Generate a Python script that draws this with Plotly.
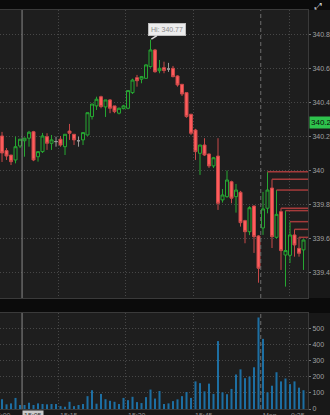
import plotly.graph_objects as go

# ---------------- data (1-minute bars) ----------------
opens = [340.203, 340.117, 340.091, 340.062, 340.144, 340.175, 340.190, 340.228, 340.081, 340.111,
         340.199, 340.160, 340.170, 340.184, 340.140, 340.232, 340.213, 340.175, 340.180, 340.209,
         340.317, 340.380, 340.434, 340.374, 340.415, 340.380, 340.337, 340.364, 340.366, 340.458,
         340.546, 340.537, 340.542, 340.611, 340.709, 340.587, 340.605, 340.597, 340.601, 340.556,
         340.507, 340.458, 340.331, 340.238, 340.101, 340.150, 340.097, 340.027, 340.085, 339.827,
         339.846, 339.934, 339.846, 339.872, 339.705, 339.640, 339.791, 339.615, 339.662, 339.778,
         339.897, 339.607, 339.758, 339.503, 339.501, 339.621, 339.542, 339.533]
highs = [340.227, 340.132, 340.091, 340.199, 340.184, 340.193, 340.233, 340.233, 340.111, 340.221,
         340.219, 340.209, 340.199, 340.203, 340.213, 340.274, 340.213, 340.199, 340.223, 340.340,
         340.391, 340.434, 340.440, 340.415, 340.420, 340.380, 340.370, 340.386, 340.470, 340.540,
         340.562, 340.556, 340.625, 340.770, 340.715, 340.650, 340.640, 340.633, 340.615, 340.560,
         340.507, 340.460, 340.331, 340.245, 340.150, 340.190, 340.100, 340.080, 340.190, 339.891,
         340.000, 339.940, 339.921, 339.880, 339.710, 339.790, 339.795, 339.620, 339.874, 339.993,
         339.948, 339.885, 339.778, 339.764, 339.699, 339.654, 339.607, 339.595]
lows = [340.050, 340.062, 340.032, 340.042, 340.132, 340.081, 340.140, 340.055, 340.052, 340.103,
        340.121, 340.121, 340.140, 340.140, 340.091, 340.180, 340.150, 340.140, 340.150, 340.205,
        340.300, 340.356, 340.366, 340.315, 340.337, 340.337, 340.330, 340.360, 340.360, 340.450,
        340.493, 340.513, 340.540, 340.605, 340.575, 340.572, 340.572, 340.580, 340.548, 340.493,
        340.438, 340.310, 340.209, 340.062, 339.974, 340.085, 340.015, 340.015, 339.768, 339.811,
        339.840, 339.807, 339.752, 339.670, 339.572, 339.620, 339.515, 339.340, 339.621, 339.748,
        339.544, 339.600, 339.415, 339.317, 339.456, 339.493, 339.493, 339.415]
closes = [340.103, 340.085, 340.052, 340.140, 340.184, 340.190, 340.225, 340.062, 340.111, 340.203,
          340.160, 340.180, 340.170, 340.150, 340.213, 340.219, 340.180, 340.175, 340.223, 340.340,
          340.391, 340.419, 340.376, 340.415, 340.366, 340.346, 340.366, 340.380, 340.470, 340.532,
          340.528, 340.552, 340.621, 340.709, 340.581, 340.601, 340.588, 340.597, 340.552, 340.503,
          340.450, 340.317, 340.219, 340.111, 340.150, 340.091, 340.027, 340.075, 339.807, 339.856,
          339.944, 339.837, 339.885, 339.693, 339.640, 339.781, 339.611, 339.425, 339.774, 339.885,
          339.611, 339.742, 339.529, 339.529, 339.621, 339.562, 339.513, 339.591]
volumes = [61, 29, 35, 69, 25, 25, 39, 25, 35, 31,
           29, 31, 31, 18, 14, 45, 18, 25, 31, 80,
           117, 33, 94, 61, 51, 45, 31, 69, 55, 76,
           43, 37, 74, 121, 65, 112, 31, 35, 49, 60,
           80, 106, 69, 172, 161, 110, 158, 94, 423, 104,
           92, 125, 215, 247, 192, 202, 260, 570, 437, 104,
           145, 229, 172, 190, 155, 172, 133, 117]

# bars whose highs are extended to the right edge
level_bars = [59, 60, 61, 62, 63, 64, 65, 66]

price_ticks = [339.4, 339.6, 339.8, 340.0, 340.2, 340.4, 340.6, 340.8]
volume_ticks = [0, 100, 200, 300, 400, 500]
time_labels = ["15:00", "15:15", "15:30", "15:45", "Mon", "9:35"]
time_label_pos = [-2.5, 12.5, 27.5, 42.5, 57.5, 63.8]   # in bar-index units
session_break = 57.5
cursor_pos, cursor_label = 4.45, "15:05"
marker_price = 340.28

# ---------------- figure ----------------
n = len(opens)
idx = list(range(n))
XMIN, XMAX = -0.45, 68.0
W, H = 330, 415
ML, MR, MT, MB = 0, 22, 10, 6
plot_h = H - MT - MB
vol_dom = [0, 96 / plot_h]
price_dom = [111 / plot_h, 1]

BG = "#1e1e1e"
PAPER = "#181818"
GRID = "#474747"
GREEN = "#26a832"
RED = "#ff5c5c"
FONT = "Liberation Sans, Arial, sans-serif"

up = [i for i in idx if closes[i] > opens[i]]
dn = [i for i in idx if closes[i] < opens[i]]
dj = [i for i in idx if closes[i] == opens[i]]

def sub(arr, ids):
    return [arr[i] for i in ids]

fig = go.Figure()

# resistance-style levels from highs
lx, ly = [], []
for b in level_bars:
    lx += [b, XMAX, None]
    ly += [highs[b], highs[b], None]
fig.add_trace(go.Scatter(x=lx, y=ly, mode="lines", line=dict(color="#a53b3b", width=1.5),
                         hoverinfo="skip", showlegend=False, xaxis="x", yaxis="y"))

for ids, lc, fc in [(up, GREEN, BG), (dn, "#c84848", RED), (dj, "#9a9a9a", "#9a9a9a")]:
    fig.add_trace(go.Candlestick(
        x=ids, open=sub(opens, ids), high=sub(highs, ids), low=sub(lows, ids), close=sub(closes, ids),
        increasing=dict(line=dict(color=lc, width=1), fillcolor=fc),
        decreasing=dict(line=dict(color=lc, width=1), fillcolor=fc),
        whiskerwidth=0, hoverinfo="skip", showlegend=False, xaxis="x", yaxis="y"))

fig.add_trace(go.Bar(x=idx, y=volumes, width=0.45, marker=dict(color="#1d6fa3", line=dict(width=0)),
                     hoverinfo="skip", showlegend=False, xaxis="x2", yaxis="y2"))

grid_x = [p for p in time_label_pos if p != session_break]
xcommon = dict(range=[XMIN, XMAX], tickmode="array", tickvals=grid_x, showticklabels=False,
               showgrid=True, gridcolor=GRID, griddash="1px,2px", gridwidth=1, zeroline=False,
               showline=True, mirror=True, linecolor="#3a3a3a", ticks="", fixedrange=True)
ycommon = dict(side="right", showgrid=True, gridcolor=GRID, griddash="1px,2px", zeroline=False,
               ticks="outside", ticklen=2, tickcolor="#777", showline=True, linecolor="#3a3a3a",
               tickfont=dict(size=7, color="#a0a0a0", family=FONT), fixedrange=True)

fig.update_layout(
    width=W, height=H, margin=dict(l=ML, r=MR, t=MT, b=MB, pad=0),
    paper_bgcolor=PAPER, plot_bgcolor=BG, showlegend=False,
    boxgap=0.33, boxgroupgap=0,
    xaxis=dict(domain=[0, 1], anchor="y", rangeslider=dict(visible=False), **xcommon),
    xaxis2=dict(domain=[0, 1], anchor="y2", matches="x", **xcommon),
    yaxis=dict(domain=price_dom, anchor="x", range=[339.25, 340.944], tickvals=price_ticks,
               ticktext=[f"{v:g}" for v in price_ticks], **ycommon),
    yaxis2=dict(domain=vol_dom, anchor="x2", range=[0, 598], tickvals=volume_ticks,
                ticktext=[str(v) for v in volume_ticks], **ycommon),
)

ext_top = 1 + MT / plot_h
ext_right = W / (W - ML - MR)
shapes = [
    dict(type="rect", xref="paper", yref="paper", x0=-0.01, x1=ext_right, y0=1, y1=ext_top + 0.01,
         fillcolor="#0b0b0b", line=dict(width=0), layer="below"),
    dict(type="rect", xref="paper", yref="paper", x0=-0.01, x1=ext_right, y0=vol_dom[1], y1=price_dom[0],
         fillcolor="#0b0b0b", line=dict(width=0), layer="below"),
]
for yr in ["y domain", "y2 domain"]:
    shapes.append(dict(type="line", xref="x", yref=yr, x0=session_break, x1=session_break, y0=0, y1=1,
                       line=dict(color="#6e6e6e", width=1, dash="4px,3px")))
    shapes.append(dict(type="line", xref="x", yref=yr, x0=cursor_pos, x1=cursor_pos, y0=0, y1=1,
                       line=dict(color="#8a8a8a", width=1)))
fig.update_layout(shapes=shapes)

def xp(v):
    return (v - XMIN) / (XMAX - XMIN)

ann = []
for lab, pos in zip(time_labels, time_label_pos):
    ann.append(dict(text=lab, xref="paper", yref="paper", x=xp(pos), y=0, xanchor="left", yanchor="top",
                    showarrow=False, font=dict(size=7, color="#8c8c8c", family=FONT), xshift=0, yshift=-1))
ann.append(dict(text=cursor_label, xref="paper", yref="paper", x=xp(cursor_pos), y=0, xanchor="left",
                yanchor="top", yshift=-1, showarrow=False, bgcolor="#c9c9c9", borderpad=1,
                font=dict(size=7, color="#333333", family=FONT)))
hi_i = highs.index(max(highs))
ann.append(dict(text=f"Hi: {max(highs):.2f}", x=hi_i, y=max(highs), xref="x", yref="y",
                showarrow=True, arrowhead=0, arrowwidth=1.5, arrowcolor="#dcdcdc", ax=16, ay=-10,
                standoff=1, bgcolor="#ececec", bordercolor="#bdbdbd", borderwidth=1, borderpad=2,
                font=dict(size=7, color="#8a8a8a", family=FONT)))
ann.append(dict(text=f"{marker_price:.2f}", xref="paper", yref="y", x=1, y=marker_price, xanchor="left",
                yanchor="middle", xshift=1, showarrow=False, bgcolor="#2ec24c", borderpad=1,
                font=dict(size=8, color="#0a0a0a", family=FONT)))
ann.append(dict(text="⤢", xref="paper", yref="paper", x=1, y=ext_top, xanchor="left", yanchor="top",
                xshift=4, yshift=1, showarrow=False, font=dict(size=9, color="#d0d0d0", family="DejaVu Sans")))
fig.update_layout(annotations=ann)

fig.write_html("out.html")
